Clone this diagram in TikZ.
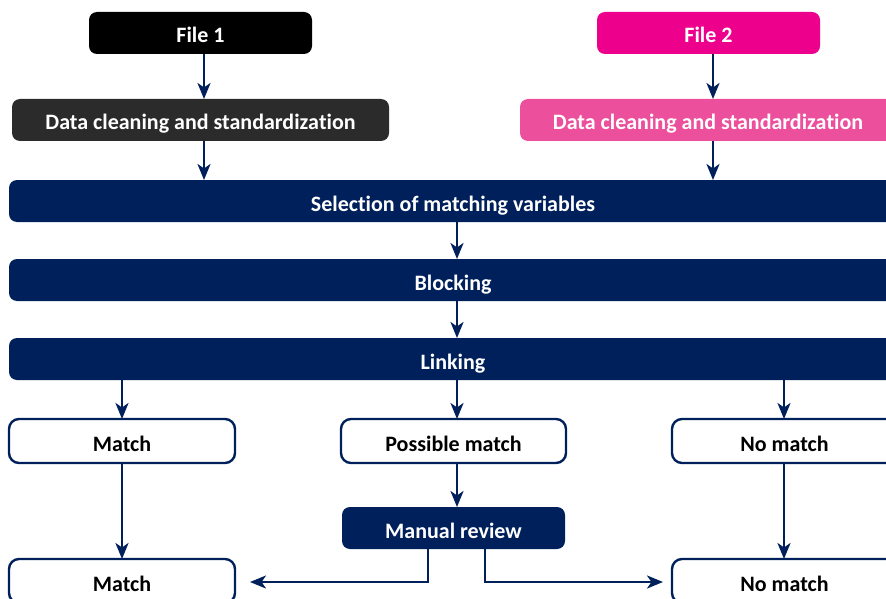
\documentclass[tikz,border=0pt]{standalone}
\usepackage{fontspec}
\setmainfont{Carlito}[Ligatures=NoCommon]
\usetikzlibrary{arrows.meta}
\definecolor{navy}{HTML}{00205B}
\definecolor{magenta}{HTML}{EC008C}
\definecolor{pinkbox}{HTML}{EC4F9B}
\definecolor{darkbox}{HTML}{2B2B2B}
\begin{document}
\begin{tikzpicture}[x=1pt,y=-1pt,
  every node/.style={font=\fontsize{22}{26}\selectfont\bfseries, inner sep=0pt, outer sep=0pt, text height=20pt, text depth=0pt},
  filled/.style={rounded corners=8pt, minimum height=42pt, text=white},
  outlined/.style={rounded corners=10pt, draw=navy, line width=2.4pt, fill=white, minimum height=44pt, text=black},
  conn/.style={draw=navy, line width=2.5pt, -{Stealth[length=16pt,width=13pt,inset=4.5pt]}}]
\useasboundingbox (0,0) rectangle (886,599);
\clip (0,0) rectangle (886,599);
% top row
\node[filled, fill=black, minimum width=223pt] (file1) at (200.5,33) {File 1};
\node[filled, fill=magenta, minimum width=223pt] (file2) at (708.5,33) {File 2};
\node[filled, fill=darkbox, minimum width=377pt] (dc1) at (200.5,120) {Data cleaning and standardiza\kern0pt tion};
\node[filled, fill=pinkbox, minimum width=376pt] (dc2) at (708,120) {Data cleaning and standardiza\kern0pt tion};
% wide bars
\node[filled, fill=navy, minimum width=888pt] (sel) at (453,201) {Selection of matching variables};
\node[filled, fill=navy, minimum width=888pt] (blk) at (453,280) {Blocking};
\node[filled, fill=navy, minimum width=888pt] (lnk) at (453,359) {Linking};
% outcomes
\node[outlined, minimum width=226pt] (m1) at (122,441) {Match};
\node[outlined, minimum width=225pt] (pm) at (453.5,441) {Possible match};
\node[outlined, minimum width=225pt] (nm1) at (784.5,441) {No match};
\node[filled, fill=navy, minimum width=223pt] (mr) at (453.5,528) {Manual review};
\node[outlined, minimum width=226pt] (m2) at (122,581) {Match};
\node[outlined, minimum width=225pt] (nm2) at (784.5,581) {No match};
% helper coordinates
\coordinate (xa) at (204,0);
\coordinate (xb) at (713,0);
\coordinate (xc) at (457,0);
\coordinate (xd) at (122,0);
\coordinate (xe) at (784,0);
\coordinate (xf) at (428,0);
\coordinate (xg) at (485,0);
\coordinate (tipL) at (250,582);
\coordinate (tipR) at (663,582);
% connectors
\draw[conn] (file1.south -| xa) -- (dc1.north -| xa);
\draw[conn] (file2.south -| xb) -- (dc2.north -| xb);
\draw[conn] (dc1.south -| xa) -- (sel.north -| xa);
\draw[conn] (dc2.south -| xb) -- (sel.north -| xb);
\draw[conn] (sel.south -| xc) -- (blk.north -| xc);
\draw[conn] (blk.south -| xc) -- (lnk.north -| xc);
\draw[conn] (lnk.south -| xd) -- (m1.north -| xd);
\draw[conn] (lnk.south -| xc) -- (pm.north -| xc);
\draw[conn] (lnk.south -| xe) -- (nm1.north -| xe);
\draw[conn] (pm.south -| xc) -- (mr.north -| xc);
\draw[conn] (m1.south -| xd) -- (m2.north -| xd);
\draw[conn] (nm1.south -| xe) -- (nm2.north -| xe);
\draw[conn] (mr.south -| xf) |- (tipL);
\draw[conn] (mr.south -| xg) |- (tipR);
\end{tikzpicture}
\end{document}
